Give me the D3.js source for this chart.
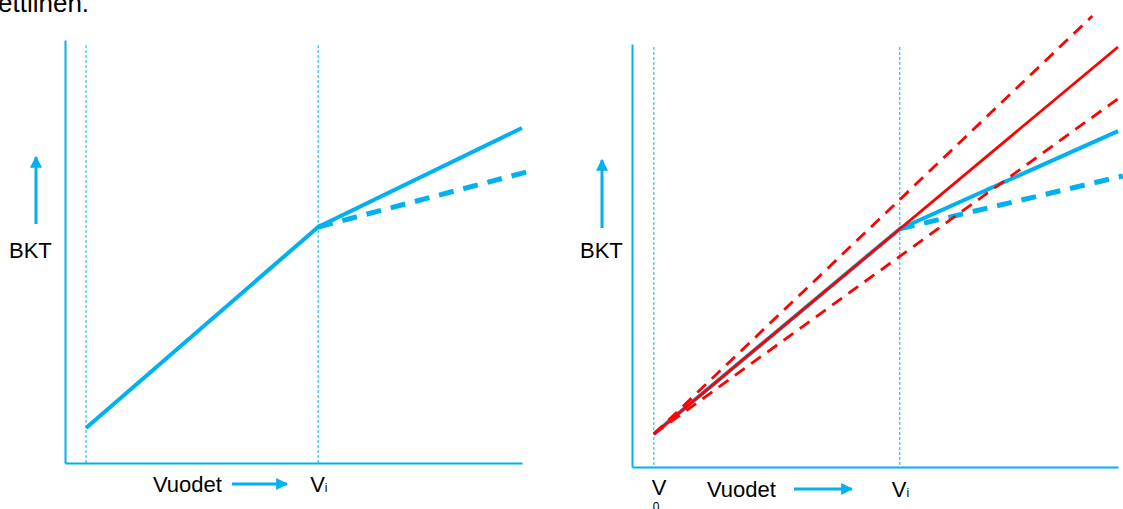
<!DOCTYPE html>
<html><head><meta charset="utf-8">
<script src="https://cdn.jsdelivr.net/npm/d3@7"></script>
<style>body{margin:0;background:#fff}svg{display:block}text{font-family:"Liberation Sans",Arial,sans-serif;fill:#000}</style>
</head><body>
<svg id="c" width="1123" height="509"></svg>
<script>
// ---- data (abstract units: x 0..100 years axis, y 0..100 BKT axis) ----
const leftMarkers = [4.6, 55.4];                 // V0, Vi
const leftSolid = [[4.6, 8.3], [55.4, 55.8], [100, 79.2]];
const leftDashed = [[55.4, 55.8], [102.8, 69.3]];

const rightMarkers = [4.5, 55.1];
const rightBlueSolid = [[4.5, 7.8], [55.1, 56.3], [100, 79.4]];
const rightBlueDashed = [[55.1, 56.3], [101, 68.8]];
const rightRedSolid = [[4.5, 7.8], [100, 99.3]];
const rightRedUpper = [[4.5, 7.8], [94.7, 106.6]];
const rightRedLower = [[4.5, 7.8], [101, 87.9]];

const yLabel = "BKT";
const xLabel = "Vuodet";
const topText = "ettiinen.";

const BLUE = "#00b0f0", RED = "#ff0000";
const svg = d3.select("#c");

svg.append("text").attr("x", -2).attr("y", 12).attr("font-size", 26).text(topText);

// arrow marker
const defs = svg.append("defs");
defs.append("marker").attr("id", "ah").attr("viewBox", "0 0 10 10").attr("refX", 9).attr("refY", 5)
  .attr("markerWidth", 4).attr("markerHeight", 4).attr("orient", "auto")
  .append("path").attr("d", "M0,0L10,5L0,10Z").attr("fill", BLUE);

function panel(cfg) {
  const x = d3.scaleLinear().domain([0, 100]).range(cfg.xr);
  const y = d3.scaleLinear().domain([0, 100]).range(cfg.yr);
  const g = svg.append("g");
  const line = d3.line().x(d => x(d[0])).y(d => y(d[1]));

  // axes (no ticks)
  g.append("g").attr("transform", `translate(0,${cfg.yr[0]})`)
    .call(d3.axisBottom(x).tickValues([]).tickSizeOuter(0));
  g.append("g").attr("transform", `translate(${cfg.xr[0]},0)`)
    .call(d3.axisLeft(y).tickValues([]).tickSizeOuter(0));
  g.selectAll(".domain").attr("stroke", BLUE).attr("stroke-width", 2);

  // dotted marker verticals
  g.selectAll(".mk").data(cfg.markers).join("line")
    .attr("x1", d => x(d)).attr("x2", d => x(d))
    .attr("y1", y(cfg.dotTop)).attr("y2", cfg.yr[0])
    .attr("stroke", BLUE).attr("stroke-width", 1).attr("stroke-dasharray", "3,2");

  cfg.series.forEach(s => {
    g.append("path").attr("d", line(s.data)).attr("fill", "none")
      .attr("stroke", s.color).attr("stroke-width", s.w)
      .attr("stroke-dasharray", s.dash || null).attr("stroke-linejoin", "miter");
  });

  // BKT label and arrow
  g.append("text").attr("x", cfg.bkt[0]).attr("y", cfg.bkt[1]).attr("font-size", 22).text(yLabel);
  g.append("line").attr("x1", cfg.ya[0]).attr("x2", cfg.ya[0]).attr("y1", cfg.ya[1]).attr("y2", cfg.ya[2])
    .attr("stroke", BLUE).attr("stroke-width", 3).attr("marker-end", "url(#ah)");

  // x label and arrow
  g.append("text").attr("x", cfg.xl[0]).attr("y", cfg.xl[1]).attr("font-size", 22).text(xLabel);
  g.append("line").attr("x1", cfg.xa[0]).attr("x2", cfg.xa[1]).attr("y1", cfg.xa[2]).attr("y2", cfg.xa[2])
    .attr("stroke", BLUE).attr("stroke-width", 3).attr("marker-end", "url(#ah)");

  const vi = g.append("text").attr("x", x(cfg.markers[1]) - 8).attr("y", cfg.xl[1]).attr("font-size", 22);
  vi.append("tspan").text("V");
  vi.append("tspan").attr("font-size", 12).text("i");

  if (cfg.v0) {
    g.append("text").attr("x", x(cfg.markers[0]) - 2).attr("y", cfg.xl[1] - 2).attr("font-size", 22).text("V");
    g.append("text").attr("x", x(cfg.markers[0]) - 1).attr("y", cfg.xl[1] + 14).attr("font-size", 12).text("0");
  }
}

panel({
  xr: [65, 522], yr: [463, 40], dotTop: 98.8, markers: leftMarkers,
  series: [
    {data: leftSolid, color: BLUE, w: 4},
    {data: leftDashed, color: BLUE, w: 5, dash: "15,10"}
  ],
  bkt: [9, 258], ya: [36, 224, 157],
  xl: [153, 492], xa: [232, 287, 484]
});

panel({
  xr: [632, 1118], yr: [467, 44], dotTop: 99.3, markers: rightMarkers, v0: true,
  series: [
    {data: rightBlueSolid, color: BLUE, w: 4},
    {data: rightBlueDashed, color: BLUE, w: 5, dash: "15,10"},
    {data: rightRedSolid, color: RED, w: 2.8},
    {data: rightRedUpper, color: RED, w: 2.8, dash: "12,8"},
    {data: rightRedLower, color: RED, w: 2.8, dash: "12,8"}
  ],
  bkt: [580, 258], ya: [602, 228, 160],
  xl: [707, 497], xa: [794, 852, 489]
});
</script>
</body></html>
